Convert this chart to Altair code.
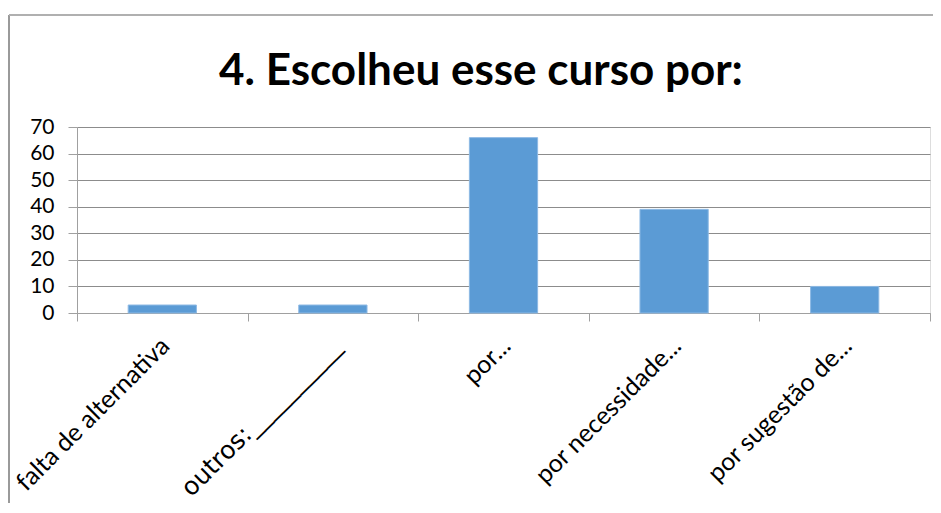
import altair as alt
import pandas as pd

categories = ["falta de alternativa", "outros:__________", "por...", "por necessidade...", "por sugestão de..."]
values = [3, 3, 66, 39, 10]
y_ticks = [0, 10, 20, 30, 40, 50, 60, 70]
title_text = "4. Escolheu esse curso por:"

df = pd.DataFrame({"cat": categories, "val": values})

FONT = "Lato"

bars = alt.Chart(df).mark_bar(
    color="#5B9BD5", stroke="#8DB9E4", strokeWidth=1,
    width=alt.RelativeBandSize(0.4)
).encode(
    x=alt.X("cat:N", sort=categories, title=None,
            scale=alt.Scale(paddingInner=0, paddingOuter=0),
            axis=alt.Axis(labelAngle=-45, tickBand="extent", tickSize=8,
                          tickColor="#a0a0a0", domainColor="#a0a0a0",
                          labelFont=alt.ExprRef(expr="indexof(datum.label, '_') >= 0 ? 'DejaVu Sans' : 'Lato'"),
                          labelFontSize=25, labelColor="#000000",
                          labelPadding=12, labelOffset=-6, labelLimit=400)),
    y=alt.Y("val:Q", title=None,
            scale=alt.Scale(domain=[0, 70], nice=False),
            axis=alt.Axis(values=y_ticks, tickSize=9, tickColor="#a0a0a0",
                          domainColor="#a0a0a0", gridColor="#8c8c8c",
                          labelFont=FONT, labelFontSize=21, labelColor="#000000",
                          labelPadding=14))
)

one = pd.DataFrame({"t": [title_text]})
left_border = alt.Chart(one).mark_rule(color="#9a9a9a", strokeWidth=2).encode(
    x=alt.value(-68), y=alt.value(-112), y2=alt.value(376)
)
top_border = alt.Chart(one).mark_rule(color="#b0b0b0", strokeWidth=2).encode(
    x=alt.value(-68), x2=alt.value(860), y=alt.value(-112)
)
title = alt.Chart(one).mark_text(
    font=FONT, fontSize=44, fontWeight="bold", color="#000000",
    align="center", baseline="alphabetic"
).encode(text="t:N", x=alt.value(404), y=alt.value(-42))

chart = alt.layer(bars, left_border, top_border, title).properties(
    width=853, height=186,
    autosize=alt.AutoSizeParams(type="none"),
    padding={"left": 69, "top": 119, "right": 3, "bottom": 190},
).configure_view(stroke=None).configure(background="white")

chart.save("out.html", embed_options={"renderer": "svg", "actions": False})
